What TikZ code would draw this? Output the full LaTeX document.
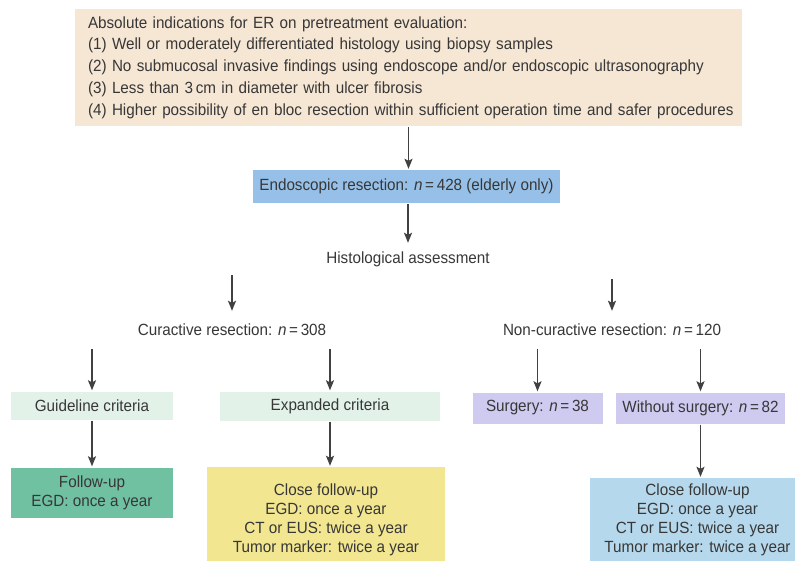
\documentclass[tikz,border=0pt]{standalone}
\usepackage{fontspec}
\setmainfont{Liberation Sans}[FakeStretch=0.94]
\usetikzlibrary{arrows.meta}
\definecolor{txt}{RGB}{55,55,55}
\definecolor{arrowc}{RGB}{65,65,65}
\definecolor{topc}{RGB}{246,230,212}
\definecolor{erc}{RGB}{150,192,232}
\definecolor{critc}{RGB}{226,242,233}
\definecolor{surgc}{RGB}{206,202,240}
\definecolor{fgreen}{RGB}{112,192,162}
\definecolor{fyellow}{RGB}{242,230,145}
\definecolor{fblue}{RGB}{182,216,236}
\begin{document}
\begin{tikzpicture}[x=1pt,y=-1pt,
  font=\fontsize{16.2}{18.8}\selectfont, text=txt,
  box/.style={inner sep=0pt, align=center},
  plain/.style={inner sep=0pt, align=center},
  arr/.style={-{Stealth[length=10pt,width=8pt,inset=2pt]}, draw=arrowc, line width=1.3pt, shorten >=1pt, shorten <=1pt}]
\useasboundingbox (0,0) rectangle (795,561);
\clip (0,0) rectangle (795,561);
\fill[white] (0,0) rectangle (795,561);

\node[fill=topc, minimum width=667pt, minimum height=117pt, text width=641pt, align=left, inner xsep=13pt, inner ysep=0pt,
      font=\fontsize{16.2}{21.7}\selectfont] (top) at (408.5,67.5)
  {\mbox{Absolute indications for ER on pretreatment evaluation:}\\
   \mbox{(1) Well or moderately differentiated histology using biopsy samples}\\
   \mbox{(2) No submucosal invasive findings using endoscope and/or endoscopic ultrasonography}\\
   \mbox{(3) Less than 3\,cm in diameter with ulcer fibrosis}\\
   \mbox{(4) Higher possibility of en bloc resection within sufficient operation time and safer procedures}};

\node[box, fill=erc, minimum width=307pt, minimum height=33pt] (er) at (406.5,186.5)
  {Endoscopic resection: \textit{n}\,=\,428 (elderly only)};

\node[plain, minimum height=30pt] (hist) at (408,259) {Histological assessment};

\node[plain, minimum height=36pt] (cur) at (232,330) {Curactive resection: \textit{n}\,=\,308};
\node[plain, minimum height=36pt] (noncur) at (612,330) {Non-curactive resection: \textit{n}\,=\,120};

\node[box, fill=critc, minimum width=162pt, minimum height=28pt] (guide) at (92,405.5) {Guideline criteria};
\node[box, fill=critc, minimum width=220pt, minimum height=29pt] (exp) at (330,406) {Expanded criteria};
\node[box, fill=surgc, minimum width=130pt, minimum height=31pt] (surg) at (537.5,408) {Surgery: \textit{n}\,=\,38};
\node[box, fill=surgc, minimum width=169pt, minimum height=31pt] (without) at (700.5,408) {Without surgery: \textit{n}\,=\,82};

\node[box, fill=fgreen, minimum width=162pt, minimum height=50pt] (fu) at (92,492.5) {Follow-up\\EGD: once a year};
\node[box, fill=fyellow, minimum width=238pt, minimum height=106pt] (closey) at (326,520)
  {Close follow-up\\EGD: once a year\\CT or EUS: twice a year\\Tumor marker: twice a year};
\node[box, fill=fblue, minimum width=215pt, minimum height=84pt] (closeb) at (697.5,520)
  {Close follow-up\\EGD: once a year\\CT or EUS: twice a year\\Tumor marker: twice a year};

\draw[arr] (top.south) -- (top.south |- er.north);
\draw[arr] (er.south -| hist.north) -- (hist.north);
\draw[arr] (hist.south -| cur.north) -- (cur.north);
\draw[arr] (hist.south -| noncur.north) ++(0,4) -- (noncur.north);
\draw[arr] (cur.south -| guide.north) -- (guide.north);
\draw[arr] (cur.south -| exp.north) -- (exp.north);
\draw[arr] (noncur.south -| surg.north) -- (surg.north);
\draw[arr] (noncur.south -| without.north) -- (without.north);
\draw[arr] (guide.south) -- (fu.north);
\draw[arr] (exp.south) -- (exp.south |- closey.north);
\draw[arr] (without.south) -- (without.south |- closeb.north);
\end{tikzpicture}
\end{document}
